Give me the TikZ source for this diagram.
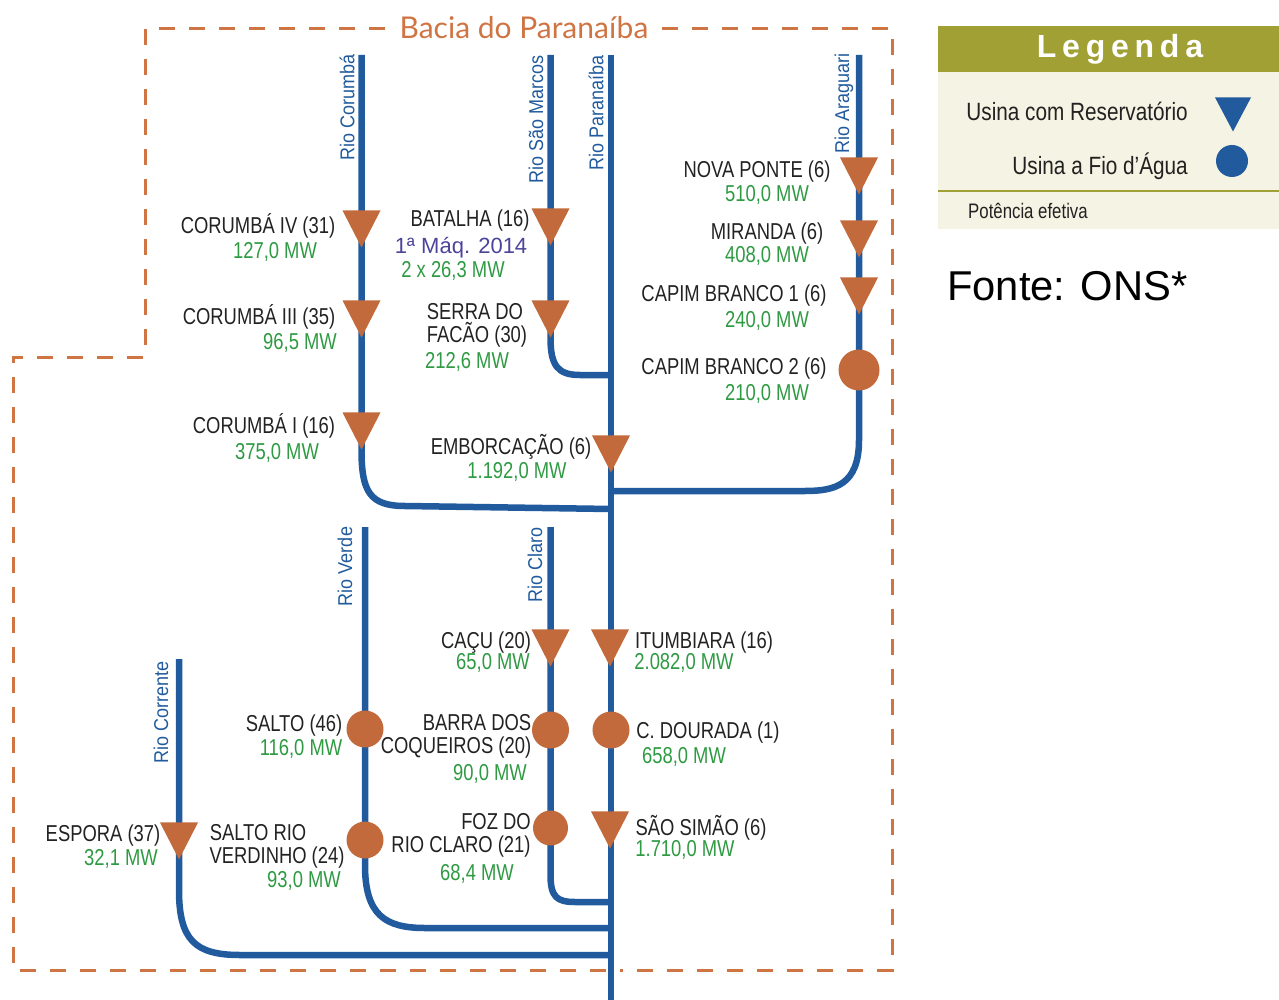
\documentclass[tikz,border=0pt]{standalone}
\usepackage{fontspec}
\usetikzlibrary{shapes.geometric,backgrounds}
\setmainfont{Liberation Sans}
\newfontfamily\nar[FakeStretch=.8]{Liberation Sans}
\newfontfamily\legf[FakeStretch=.83]{Liberation Sans}
\newfontfamily\riv[FakeStretch=.9]{Liberation Sans}
\newfontfamily\titf{Lato}
\newfontfamily\lgd[LetterSpace=18]{Liberation Sans Bold}
\definecolor{rblue}{HTML}{215B9E}
\definecolor{rorange}{HTML}{C26A3B}
\definecolor{dorange}{HTML}{CF7443}
\definecolor{pgreen}{HTML}{2E9A42}
\definecolor{ptext}{HTML}{222222}
\definecolor{ppurple}{HTML}{4B4499}
\definecolor{olive}{HTML}{A0A035}
\definecolor{cream}{HTML}{F5F3E3}
\newcounter{lblc}
\tikzset{
  river/.style={draw=rblue,line width=6.5pt},
  bacialine/.style={draw=dorange,line width=3pt,dash pattern=on 16pt off 14pt},
  tribase/.style={isosceles triangle,isosceles triangle stretches,shape border rotate=-90,
    minimum width=38pt,minimum height=37pt,inner sep=0pt,anchor=apex},
  usinares/.style={tribase,fill=rorange},
  usinafio/.style={circle,fill=rorange,inner sep=0pt},
  sttxt/.style={anchor=base,text=ptext,font=\nar\fontsize{23}{23}\selectfont,inner sep=0pt},
  powtxt/.style={anchor=base,text=pgreen,font=\nar\fontsize{23}{23}\selectfont,inner sep=0pt},
  rlabel/.style={anchor=center,rotate=90,text=rblue,font=\riv\fontsize{20}{20}\selectfont,inner sep=0pt},
}
\newcommand{\nm}[3]{\stepcounter{lblc}\node[sttxt] (lab\arabic{lblc}) at (#1,#2+8) {#3};}
\newcommand{\pw}[3]{\stepcounter{lblc}\node[powtxt] (lab\arabic{lblc}) at (#1,#2+8) {#3};}
\begin{document}
\begin{tikzpicture}[x=1pt,y=-1pt]
\useasboundingbox (0,0) rectangle (1279,1000);
% stations
\node[usinares] (np) at (859,195) {};
\node[usinares] (mi) at (859,258) {};
\node[usinares] (cb1) at (859,315) {};
\node[usinafio,minimum size=41pt] (cb2) at (859,370) {};
\node[usinares] (c4) at (361.5,248) {};
\node[usinares] (c3) at (361.5,338) {};
\node[usinares] (c1) at (361.5,450) {};
\node[usinares] (ba) at (550.5,246) {};
\node[usinares] (sf) at (550.5,338) {};
\node[usinares] (em) at (611,473) {};
\node[usinares] (it) at (610,667) {};
\node[usinares] (ca) at (550.5,667) {};
\node[usinafio,minimum size=37pt] (bc) at (550.5,730) {};
\node[usinafio,minimum size=37pt] (cd) at (611,730) {};
\node[usinafio,minimum size=35pt] (fc) at (550.5,828) {};
\node[usinares] (ss) at (610,849) {};
\node[usinafio,minimum size=37pt] (sa) at (365,729) {};
\node[usinafio,minimum size=37pt] (sv) at (365,840) {};
\node[usinares] (es) at (179,860) {};
% river ends
\coordinate (sCor) at (361.5,55);
\coordinate (sSM) at (550.5,55);
\coordinate (sPar) at (611,55);
\coordinate (ePar) at (611,1000);
\coordinate (sAra) at (859,55);
\coordinate (sVer) at (365,527);
\coordinate (sCla) at (550.5,527);
\coordinate (sCte) at (179,659);
\coordinate (jCorA) at (405,506);
\coordinate (jCorB) at (611,509);
\coordinate (bSM) at (580,375);
\coordinate (jSM) at (611,375);
\coordinate (bAraA) at (859,440);
\coordinate (bAraB) at (805,491);
\coordinate (jAra) at (611,491);
\coordinate (bVerA) at (365,865);
\coordinate (bVerB) at (425,928);
\coordinate (jVer) at (611,928);
\coordinate (bClaA) at (550.5,875);
\coordinate (bClaB) at (575,902);
\coordinate (jCla) at (611,902);
\coordinate (bCteA) at (179,890);
\coordinate (bCteB) at (240,955);
\coordinate (jCte) at (611,955);
\begin{scope}[on background layer]
\draw[river] (sPar) -- (ePar);
\draw[river] (sCor) -- (c4.center) -- (c3.center) -- (c1.apex) .. controls +(0,42) and +(-35,0) .. (jCorA) -- (jCorB);
\draw[river] (sSM) -- (ba.center) -- (sf.apex) .. controls +(0,28) and +(-22,0) .. (bSM) -- (jSM);
\draw[river] (sAra) -- (np.center) -- (mi.center) -- (cb1.center) -- (cb2.center) -- (bAraA) .. controls +(0,45) and +(30,0) .. (bAraB) -- (jAra);
\draw[river] (sVer) -- (sa.center) -- (sv.center) -- (bVerA) .. controls +(0,50) and +(-40,0) .. (bVerB) -- (jVer);
\draw[river] (sCla) -- (ca.center) -- (bc.center) -- (fc.center) -- (bClaA) .. controls +(0,22) and +(-18,0) .. (bClaB) -- (jCla);
\draw[river] (sCte) -- (es.center) -- (bCteA) .. controls +(0,50) and +(-45,0) .. (bCteB) -- (jCte);
\end{scope}
% basin border
\coordinate (bA) at (385,29);
\coordinate (bB) at (145,29);
\coordinate (bC) at (145,357);
\coordinate (bD) at (13,357);
\coordinate (bE) at (13,970);
\coordinate (bM) at (620,970);
\coordinate (bF) at (892,970);
\coordinate (bG) at (892,29);
\coordinate (bH) at (662,29);
\draw[bacialine] (bA) -- (bB) -- (bC) -- (bD) -- (bE) -- (bM);
\draw[bacialine] (bH) -- (bG) -- (bF) -- (bM);
\node[text=dorange,font=\titf\fontsize{30}{30}\selectfont,inner sep=0pt] (title) at (524,28) {Bacia do Paranaíba};
% river labels
\node[rlabel] (rCor) at (347,107.5) {Rio Corumbá};
\node[rlabel] (rSM) at (536,119) {Rio São Marcos};
\node[rlabel] (rPar) at (596,112.5) {Rio Paranaíba};
\node[rlabel] (rAra) at (844,103) {Rio Araguari};
\node[rlabel] (rVer) at (345,566.5) {Rio Verde};
\node[rlabel] (rCla) at (535,564.5) {Rio Claro};
\node[rlabel] (rCte) at (161,712.5) {Rio Corrente};
% labels
\nm{258}{226}{CORUMBÁ IV (31)}
\pw{275}{251}{127,0 MW}
\nm{259}{316}{CORUMBÁ III (35)}
\pw{300}{341}{96,5 MW}
\nm{264}{425}{CORUMBÁ I (16)}
\pw{277}{451}{375,0 MW}
\nm{470}{219}{BATALHA (16)}
\node[anchor=base,text=ppurple,font=\fontsize{22}{22}\selectfont,inner sep=0pt] (bat) at (461,254) {1ª Máq. 2014};
\pw{453}{270}{2 x 26,3 MW}
\nm{475}{311}{SERRA DO}
\nm{477}{334}{FACÃO (30)}
\pw{467}{360}{212,6 MW}
\nm{511}{446}{EMBORCAÇÃO (6)}
\pw{517}{470}{1.192,0 MW}
\nm{757}{170}{NOVA PONTE (6)}
\pw{767}{194}{510,0 MW}
\nm{767}{232}{MIRANDA (6)}
\pw{767}{255}{408,0 MW}
\nm{734}{293.5}{CAPIM BRANCO 1 (6)}
\pw{767}{319}{240,0 MW}
\nm{734}{366.5}{CAPIM BRANCO 2 (6)}
\pw{767}{392}{210,0 MW}
\nm{486}{640.5}{CAÇU (20)}
\pw{493}{661}{65,0 MW}
\nm{704}{640.5}{ITUMBIARA (16)}
\pw{684}{661}{2.082,0 MW}
\nm{294}{723}{SALTO (46)}
\pw{301}{747}{116,0 MW}
\nm{477}{722}{BARRA DOS}
\nm{456}{745}{COQUEIROS (20)}
\pw{490}{772}{90,0 MW}
\nm{708}{730}{C. DOURADA (1)}
\pw{684}{755}{658,0 MW}
\nm{103}{833}{ESPORA (37)}
\pw{121}{857}{32,1 MW}
\nm{258}{832}{SALTO RIO}
\nm{277}{855}{VERDINHO (24)}
\pw{304}{879}{93,0 MW}
\nm{496}{821}{FOZ DO}
\nm{461}{844}{RIO CLARO (21)}
\pw{477}{872}{68,4 MW}
\nm{701}{827}{SÃO SIMÃO (6)}
\pw{685}{848}{1.710,0 MW}
% legend
\fill[cream] (938,72) rectangle (1279,229);
\fill[olive] (938,26) rectangle (1279,72);
\coordinate (lnA) at (938,191);
\coordinate (lnB) at (1279,191);
\draw[olive,line width=2pt] (lnA) -- (lnB);
\node[text=white,font=\lgd\fontsize{32}{32}\selectfont,inner sep=0pt,anchor=base] (lgT) at (1120,58) {Legenda};
\node[anchor=base east,text=ptext,font=\legf\fontsize{25}{25}\selectfont,inner sep=0pt] (lg1) at (1188,121) {Usina com Reservatório};
\node[anchor=base east,text=ptext,font=\legf\fontsize{25}{25}\selectfont,inner sep=0pt] (lg2) at (1188,175) {Usina a Fio d’Água};
\node[tribase,fill=rblue,minimum width=36pt,minimum height=34pt] (lgTri) at (1233,132) {};
\node[circle,fill=rblue,inner sep=0pt,minimum size=32pt] (lgCir) at (1232,161) {};
\node[anchor=base west,text=ptext,font=\nar\fontsize{21}{21}\selectfont,inner sep=0pt] (lg3) at (968,219) {Potência efetiva};
\node[anchor=base west,text=black,font=\fontsize{41.7}{42}\selectfont,inner sep=0pt] (fonte) at (947,300) {Fonte: ONS*};
\end{tikzpicture}
\end{document}
